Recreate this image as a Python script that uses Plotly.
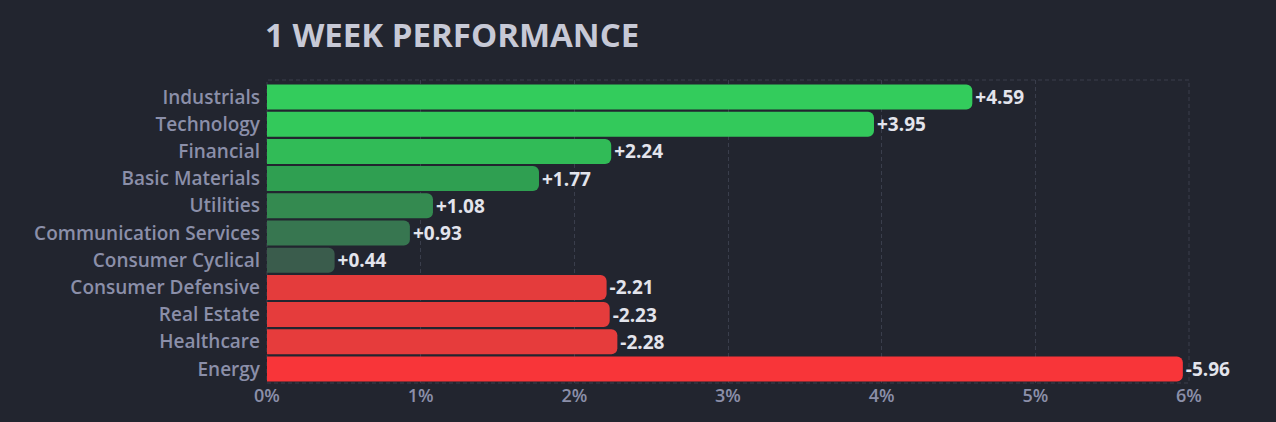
import plotly.graph_objects as go

sectors = ["Industrials", "Technology", "Financial", "Basic Materials", "Utilities",
           "Communication Services", "Consumer Cyclical", "Consumer Defensive",
           "Real Estate", "Healthcare", "Energy"]
changes = [4.59, 3.95, 2.24, 1.77, 1.08, 0.93, 0.44, -2.21, -2.23, -2.28, -5.96]
tick_vals = [0, 1, 2, 3, 4, 5, 6]
tick_text = ["0%", "1%", "2%", "3%", "4%", "5%", "6%"]

bar_colors = ["#33cc5c", "#33c95b", "#31bb57", "#2f9f51", "#348a50", "#377650",
              "#3a5c4c", "#e43c3c", "#e53c3c", "#e63c3c", "#f83539"]

COLORS = {
    "background": "#22252f",
    "grid": "#3a3e4c",
    "title": "#c7c9d6",
    "tick": "#8b8fa9",
    "value": "#e3e4ec",
}
FONT = "Open Sans"

fig = go.Figure()
fig.add_trace(go.Bar(
    y=sectors,
    x=[abs(v) for v in changes],
    orientation="h",
    marker=dict(color=bar_colors, cornerradius=6, line=dict(width=0)),
    text=[f"{v:+.2f}" for v in changes],
    textposition="outside",
    constraintext="none",
    textfont=dict(color=COLORS["value"], size=19, family=FONT, weight=700),
    cliponaxis=False,
    hoverinfo="skip",
))

fig.add_shape(type="rect", xref="paper", yref="paper", x0=0, x1=1, y0=0, y1=1,
              line=dict(color=COLORS["grid"], width=1, dash="4px,3px"), layer="below")

fig.update_layout(
    title=dict(text="1 WEEK PERFORMANCE", x=265 / 1276, xanchor="left", y=0.917, yanchor="middle",
               font=dict(size=33, color=COLORS["title"], family=FONT, weight="bold")),
    width=1276,
    height=422,
    paper_bgcolor=COLORS["background"],
    plot_bgcolor=COLORS["background"],
    bargap=0.08,
    showlegend=False,
    margin=dict(l=267, r=87, t=80, b=39),
    font=dict(family=FONT),
)
fig.update_xaxes(range=[0, 6], tickvals=tick_vals, ticktext=tick_text,
                 showgrid=True, gridcolor=COLORS["grid"], griddash="4px,3px", zeroline=False,
                 tickfont=dict(size=18, color=COLORS["tick"], family=FONT, weight=600),
                 ticks="", ticklen=0)
fig.update_yaxes(range=[10.515, -0.625], showgrid=False, zeroline=False, ticks="",
                 ticklabelstandoff=6,
                 tickfont=dict(size=19, color=COLORS["tick"], family=FONT, weight=600))

fig.write_html("out.html", config={"displayModeBar": False},
               post_script="document.body.style.margin='0';")
